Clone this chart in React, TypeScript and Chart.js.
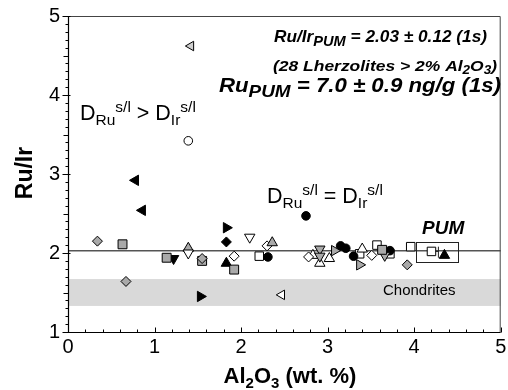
import React, { useEffect, useRef } from "react";
import { Chart, registerables } from "chart.js";

Chart.register(...registerables);

const F = '"Liberation Sans", Arial, Helvetica, sans-serif';

// ---- data (Al2O3 wt.% , Ru/Ir) ----
const blackLeftTriAl = [0.78, 0.86];
const blackLeftTriRuIr = [2.92, 2.54];
const blackRightTriAl = [1.53, 1.83];
const blackRightTriRuIr = [1.45, 2.32];
const grayLeftTriAl = [1.42];
const grayLeftTriRuIr = [4.62];
const openLeftTriAl = [2.47];
const openLeftTriRuIr = [1.47];
const openCircleAl = [1.39];
const openCircleRuIr = [3.42];
const blackCircleAl = [2.75, 2.31, 3.15, 3.21, 3.3, 3.72];
const blackCircleRuIr = [2.47, 1.95, 2.09, 2.06, 1.96, 2.03];
const grayDiamondAl = [0.34, 0.67, 1.55, 3.92];
const grayDiamondRuIr = [2.15, 1.64, 1.93, 1.85];
const openDiamondAl = [1.92, 2.3, 2.78, 3.51];
const openDiamondRuIr = [1.96, 2.09, 1.95, 1.97];
const blackDiamondAl = [1.83];
const blackDiamondRuIr = [2.14];
const graySquareAl = [0.63, 1.14, 1.55, 1.92, 3.63];
const graySquareRuIr = [2.11, 1.94, 1.9, 1.79, 2.04];
const openSquareAl = [2.21, 3.37, 3.57, 3.72, 3.96, 4.2];
const openSquareRuIr = [1.96, 1.99, 2.1, 1.99, 2.08, 2.02];
const blackDownTriAl = [1.22];
const blackDownTriRuIr = [1.93];
const openDownTriAl = [1.39, 2.1];
const openDownTriRuIr = [2.0, 2.2];
const grayDownTriAl = [2.91, 2.91, 3.66];
const grayDownTriRuIr = [2.05, 1.96, 1.97];
const grayUpTriAl = [1.39, 2.36];
const grayUpTriRuIr = [2.06, 2.13];
const openUpTriAl = [2.83, 2.91, 3.02, 3.4];
const openUpTriRuIr = [1.97, 1.87, 1.93, 2.05];
const blackUpTriAl = [1.83, 4.35];
const blackUpTriRuIr = [1.87, 1.97];
const grayRightTriAl = [3.08, 3.37];
const grayRightTriRuIr = [2.03, 1.85];

const pumRuIr = 2.03;
const pumBoxAl = [4.02, 4.51];
const pumBoxRuIr = [1.89, 2.14];
const pumErrAl = [4.2, 4.28];
const pumErrRuIr = [1.94, 2.08];
const chondriteBand = [1.33, 1.67];

const xTicks = [0, 1, 2, 3, 4, 5];
const yTicks = [1, 2, 3, 4, 5];

const pts = (xs: number[], ys: number[]) => xs.map((x, i) => ({ x, y: ys[i] }));

const GRAY = "#a9a9a9";

const mk = (xs: number[], ys: number[], style: string, fill: string, r: number, rot = 0) => ({
  data: pts(xs, ys),
  pointStyle: style,
  pointRotation: rot,
  pointRadius: r,
  pointBackgroundColor: fill,
  pointBorderColor: "#000",
  pointBorderWidth: 1,
  showLine: false,
});

type Part = { t: string; font: string; dy?: number };
function richWidth(ctx: CanvasRenderingContext2D, parts: Part[]) {
  let w = 0;
  for (const p of parts) {
    ctx.font = p.font;
    w += ctx.measureText(p.t).width;
  }
  return w;
}
function drawRich(ctx: CanvasRenderingContext2D, x: number, y: number, parts: Part[], target?: number) {
  const w = richWidth(ctx, parts);
  ctx.save();
  ctx.translate(x, y);
  if (target) ctx.scale(target / w, 1);
  let cx = 0;
  for (const p of parts) {
    ctx.font = p.font;
    ctx.fillText(p.t, cx, p.dy || 0);
    cx += ctx.measureText(p.t).width;
  }
  ctx.restore();
}

const decor = {
  id: "decor",
  beforeDatasetsDraw(chart: any) {
    const { ctx, chartArea: a, scales } = chart;
    const ys = scales.y;
    ctx.save();
    const b1 = ys.getPixelForValue(chondriteBand[1]);
    const b0 = ys.getPixelForValue(chondriteBand[0]);
    ctx.fillStyle = "#d9d9d9";
    ctx.fillRect(a.left + 1, b1, a.right - a.left - 1, b0 - b1);
    ctx.fillStyle = "#000";
    ctx.textBaseline = "alphabetic";
    ctx.textAlign = "left";
    ctx.font = `15px ${F}`;
    ctx.fillText("Chondrites", 383, 295);
    const py = ys.getPixelForValue(pumRuIr);
    ctx.strokeStyle = "#555";
    ctx.lineWidth = 1.5;
    ctx.beginPath();
    ctx.moveTo(a.left, py);
    ctx.lineTo(a.right, py);
    ctx.stroke();
    ctx.restore();
  },
  afterDatasetsDraw(chart: any) {
    const { ctx, chartArea: a, scales } = chart;
    const xs = scales.x, ys = scales.y;
    ctx.save();
    const bx0 = xs.getPixelForValue(pumBoxAl[0]);
    const bx1 = xs.getPixelForValue(pumBoxAl[1]);
    const by0 = ys.getPixelForValue(pumBoxRuIr[0]);
    const by1 = ys.getPixelForValue(pumBoxRuIr[1]);
    ctx.strokeStyle = "#222";
    ctx.lineWidth = 1;
    ctx.strokeRect(Math.round(bx0) + 0.5, Math.round(by1) + 0.5, Math.round(bx1 - bx0), Math.round(by0 - by1));
    const ey = ys.getPixelForValue(openSquareRuIr[5]);
    const ex0 = xs.getPixelForValue(pumErrAl[0]) + 4;
    const ex1 = xs.getPixelForValue(pumErrAl[1]);
    ctx.beginPath();
    ctx.moveTo(ex0, ey);
    ctx.lineTo(ex1, ey);
    ctx.moveTo(ex1, ys.getPixelForValue(pumErrRuIr[0]));
    ctx.lineTo(ex1, ys.getPixelForValue(pumErrRuIr[1]));
    ctx.stroke();

    ctx.strokeStyle = "#444";
    ctx.lineWidth = 1;
    ctx.beginPath();
    ctx.moveTo(a.left, a.top + 0.5);
    ctx.lineTo(a.right - 0.5, a.top + 0.5);
    ctx.lineTo(a.right - 0.5, a.bottom);
    ctx.stroke();
    ctx.strokeStyle = "#000";
    ctx.lineWidth = 1.2;
    ctx.beginPath();
    ctx.moveTo(a.left + 0.5, a.top);
    ctx.lineTo(a.left + 0.5, a.bottom + 0.5);
    ctx.lineTo(a.right, a.bottom + 0.5);
    ctx.stroke();
    ctx.lineWidth = 1;
    ctx.beginPath();
    for (let i = 0; i <= 40; i++) {
      const v = 1 + i * 0.1;
      const y = Math.round(ys.getPixelForValue(v)) + 0.5;
      const len = i % 10 === 0 ? 6 : i % 5 === 0 ? 5 : 3;
      ctx.moveTo(a.left - len + 0.5, y);
      ctx.lineTo(a.left + (i % 10 === 0 ? 2 : 0) + 0.5, y);
    }
    for (let i = 0; i <= 25; i++) {
      const v = i * 0.2;
      const x = Math.round(xs.getPixelForValue(v)) + 0.5;
      const len = i % 5 === 0 ? 5 : 3;
      ctx.moveTo(x, a.bottom + 0.5);
      ctx.lineTo(x, a.bottom + 0.5 - len);
    }
    ctx.stroke();

    ctx.fillStyle = "#000";
    ctx.textAlign = "left";
    ctx.textBaseline = "alphabetic";
    const bi = (s: number) => `italic bold ${s}px ${F}`;
    const nr = (s: number) => `${s}px ${F}`;
    const bd = (s: number) => `bold ${s}px ${F}`;
    drawRich(ctx, 274, 41.5, [
      { t: "Ru/Ir", font: bi(16.5) },
      { t: "PUM", font: bi(14), dy: 4 },
      { t: " = 2.03 ± 0.12 (1s)", font: bi(16.5) },
    ], 213);
    drawRich(ctx, 273, 70.5, [
      { t: "(28 Lherzolites > 2% Al", font: bi(15.5) },
      { t: "2", font: bi(12), dy: 3 },
      { t: "O", font: bi(15.5) },
      { t: "3", font: bi(12), dy: 3 },
      { t: ")", font: bi(15.5) },
    ], 224);
    drawRich(ctx, 219, 91.5, [
      { t: "Ru", font: bi(20) },
      { t: "PUM", font: bi(17), dy: 5 },
      { t: " = 7.0 ± 0.9 ng/g (1s)", font: bi(20) },
    ], 282);
    const dParts = (op: string): Part[] => [
      { t: "D", font: nr(21.5) },
      { t: "Ru", font: nr(15.5), dy: 5 },
      { t: "s/l", font: nr(15.5), dy: -8 },
      { t: ` ${op} D`, font: nr(21.5) },
      { t: "Ir", font: nr(15.5), dy: 5 },
      { t: "s/l", font: nr(15.5), dy: -8 },
    ];
    drawRich(ctx, 80, 120, dParts(">"));
    drawRich(ctx, 267, 203, dParts("="));
    ctx.font = bi(19);
    ctx.fillText("PUM", 422, 234);

    const xt: Part[] = [
      { t: "Al", font: bd(22) },
      { t: "2", font: bd(15), dy: 5 },
      { t: "O", font: bd(22) },
      { t: "3", font: bd(15), dy: 5 },
      { t: " (wt. %)", font: bd(22) },
    ];
    const w = richWidth(ctx, xt);
    drawRich(ctx, 290 - w / 2, 383, xt);
    ctx.translate(31.5, 173);
    ctx.rotate(-Math.PI / 2);
    ctx.textAlign = "center";
    ctx.font = bd(23);
    ctx.fillText("Ru/Ir", 0, 0);
    ctx.restore();
  },
};

const noPad = (s: any) => {
  s.paddingLeft = 0;
  s.paddingRight = 0;
  s.paddingTop = 0;
  s.paddingBottom = 0;
};

export default function App() {
  const ref = useRef<HTMLCanvasElement>(null);
  useEffect(() => {
    const canvas = ref.current!;
    const datasets: any[] = [
      mk(openCircleAl, openCircleRuIr, "circle", "#fff", 4.3),
      mk(grayLeftTriAl, grayLeftTriRuIr, "triangle", "#cfcfcf", 5.5, 270),
      mk(openLeftTriAl, openLeftTriRuIr, "triangle", "#fff", 5.5, 270),
      mk(blackLeftTriAl, blackLeftTriRuIr, "triangle", "#000", 6, 270),
      mk(blackRightTriAl, blackRightTriRuIr, "triangle", "#000", 6, 90),
      mk(grayDiamondAl, grayDiamondRuIr, "rectRot", GRAY, 5),
      mk(graySquareAl, graySquareRuIr, "rect", GRAY, 6.3),
      mk(blackDownTriAl, blackDownTriRuIr, "triangle", "#000", 6, 180),
      mk(openDownTriAl, openDownTriRuIr, "triangle", "#fff", 6, 180),
      mk(grayUpTriAl, grayUpTriRuIr, "triangle", GRAY, 6),
      mk(blackDiamondAl, blackDiamondRuIr, "rectRot", "#000", 5),
      mk(openDiamondAl, openDiamondRuIr, "rectRot", "#fff", 5),
      mk(grayDownTriAl, grayDownTriRuIr, "triangle", GRAY, 6, 180),
      mk(openUpTriAl, openUpTriRuIr, "triangle", "#fff", 6),
      mk(grayRightTriAl, grayRightTriRuIr, "triangle", GRAY, 6, 90),
      mk(blackCircleAl, blackCircleRuIr, "circle", "#000", 4.3),
      mk(openSquareAl, openSquareRuIr, "rect", "#fff", 6),
      mk(blackUpTriAl, blackUpTriRuIr, "triangle", "#000", 6),
    ];
    const chart = new Chart(canvas, {
      type: "scatter",
      data: { datasets },
      options: {
        animation: false,
        responsive: false,
        devicePixelRatio: 1,
        layout: { padding: { top: 16, right: 1, left: 0, bottom: 0 } },
        plugins: { legend: { display: false }, tooltip: { enabled: false } },
        scales: {
          x: {
            type: "linear",
            min: 0,
            max: 5,
            afterBuildTicks: (s: any) => {
              s.ticks = xTicks.map((v) => ({ value: v }));
            },
            ticks: { color: "#000", font: { family: F, size: 20 }, padding: 3, maxRotation: 0 },
            grid: { display: false, drawTicks: false },
            border: { display: false },
            afterFit: (s: any) => {
              s.height = 58;
              noPad(s);
            },
          },
          y: {
            type: "linear",
            min: 1,
            max: 5,
            afterBuildTicks: (s: any) => {
              s.ticks = yTicks.map((v) => ({ value: v }));
            },
            ticks: { color: "#000", font: { family: F, size: 20 }, padding: 8 },
            grid: { display: false, drawTicks: false },
            border: { display: false },
            afterFit: (s: any) => {
              s.width = 68;
              noPad(s);
            },
          },
        },
      },
      plugins: [decor],
    });
    return () => chart.destroy();
  }, []);
  return (
    <div style={{ position: "absolute", left: 0, top: 0, width: 508, height: 390, background: "#fff" }}>
      <canvas ref={ref} width={508} height={390} style={{ display: "block" }} />
    </div>
  );
}
